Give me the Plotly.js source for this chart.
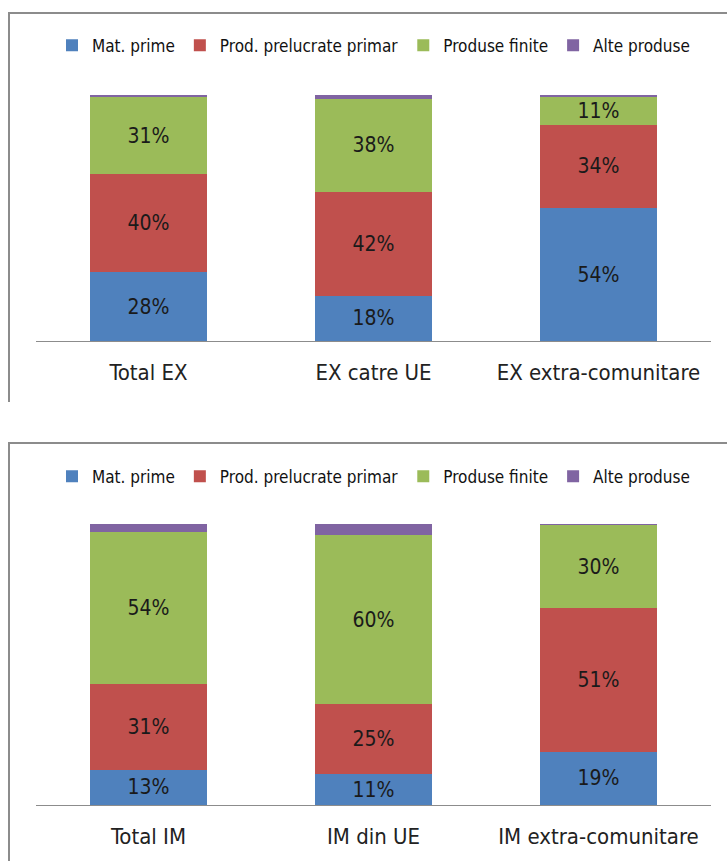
<!DOCTYPE html>
<html><head><meta charset="utf-8">
<script src="https://cdn.plot.ly/plotly-3.0.1.min.js"></script>
<style>
body{margin:0;background:#fff;width:727px;height:861px;overflow:hidden;position:relative;}
.box{position:absolute;left:8px;width:740px;border:2px solid #8c8c8c;box-sizing:border-box;background:#fff;}
#c1{top:12px;height:390px;}
#c2{top:442px;height:440px;}
</style></head>
<body>
<div id="c1" class="box"></div>
<div id="c2" class="box"></div>
<script>
const seriesNames = ["Mat. prime", "Prod. prelucrate primar", "Produse finite", "Alte produse"];
const colors = ["#4F81BD", "#C0504D", "#9BBB59", "#8064A2"];

const exCategories = ["Total EX", "EX catre UE", "EX extra-comunitare"];
const exMatPrime = [28, 18.3, 54];
const exProdPrelucrate = [40, 42.2, 34];
const exProduseFinite = [31, 38, 11];
const exAlteProduse = [1, 1.5, 1];

const imCategories = ["Total IM", "IM din UE", "IM extra-comunitare"];
const imMatPrime = [12.6, 11, 19];
const imProdPrelucrate = [30.6, 25, 51];
const imProduseFinite = [54, 60, 29.6];
const imAlteProduse = [3, 4, 0.4];

const FONT = "'DejaVu Sans Condensed', 'Liberation Sans Narrow', sans-serif";

function makeTraces(cats, data){
  return data.map((vals, i) => ({
    type: "bar",
    name: seriesNames[i],
    x: cats,
    y: vals,
    marker: {color: colors[i], line: {width: 0}},
    texttemplate: i < 3 ? "%{y:.0f}%" : "",
    textposition: i < 3 ? "inside" : "none",
    insidetextanchor: "middle",
    textangle: 0,
    constraintext: "none",
    insidetextfont: {family: FONT, size: 21, color: "#1a1a1a"},
    hoverinfo: "skip"
  }));
}

function makeLayout(h, t, b, legY){
  return {
    width: 740, height: h,
    margin: {l: 26, r: 39, t: t, b: b, pad: 0},
    barmode: "stack",
    bargap: 0.48,
    paper_bgcolor: "#fff",
    plot_bgcolor: "#fff",
    showlegend: true,
    legend: {orientation: "h", x: 0.5, xanchor: "center", y: legY, yanchor: "middle",
             font: {family: FONT, size: 17, color: "#111"}, itemwidth: 30, traceorder: "normal",
             tracegroupgap: 0, itemclick: false},
    xaxis: {showline: true, linecolor: "#8c8c8c", linewidth: 1, ticks: "", showgrid: false,
            zeroline: false, tickfont: {family: FONT, size: 22, color: "#222"},
            ticklabelstandoff: 12, fixedrange: true},
    yaxis: {range: [0, 100], visible: false, showgrid: false, zeroline: false, fixedrange: true},
    font: {family: FONT}
  };
}

Plotly.newPlot("c1",
  makeTraces(exCategories, [exMatPrime, exProdPrelucrate, exProduseFinite, exAlteProduse]),
  makeLayout(388, 81, 61, 1.2),
  {staticPlot: true});

Plotly.newPlot("c2",
  makeTraces(imCategories, [imMatPrime, imProdPrelucrate, imProduseFinite, imAlteProduse]),
  makeLayout(438, 80, 77, 1.168),
  {staticPlot: true});
</script>
</body></html>
